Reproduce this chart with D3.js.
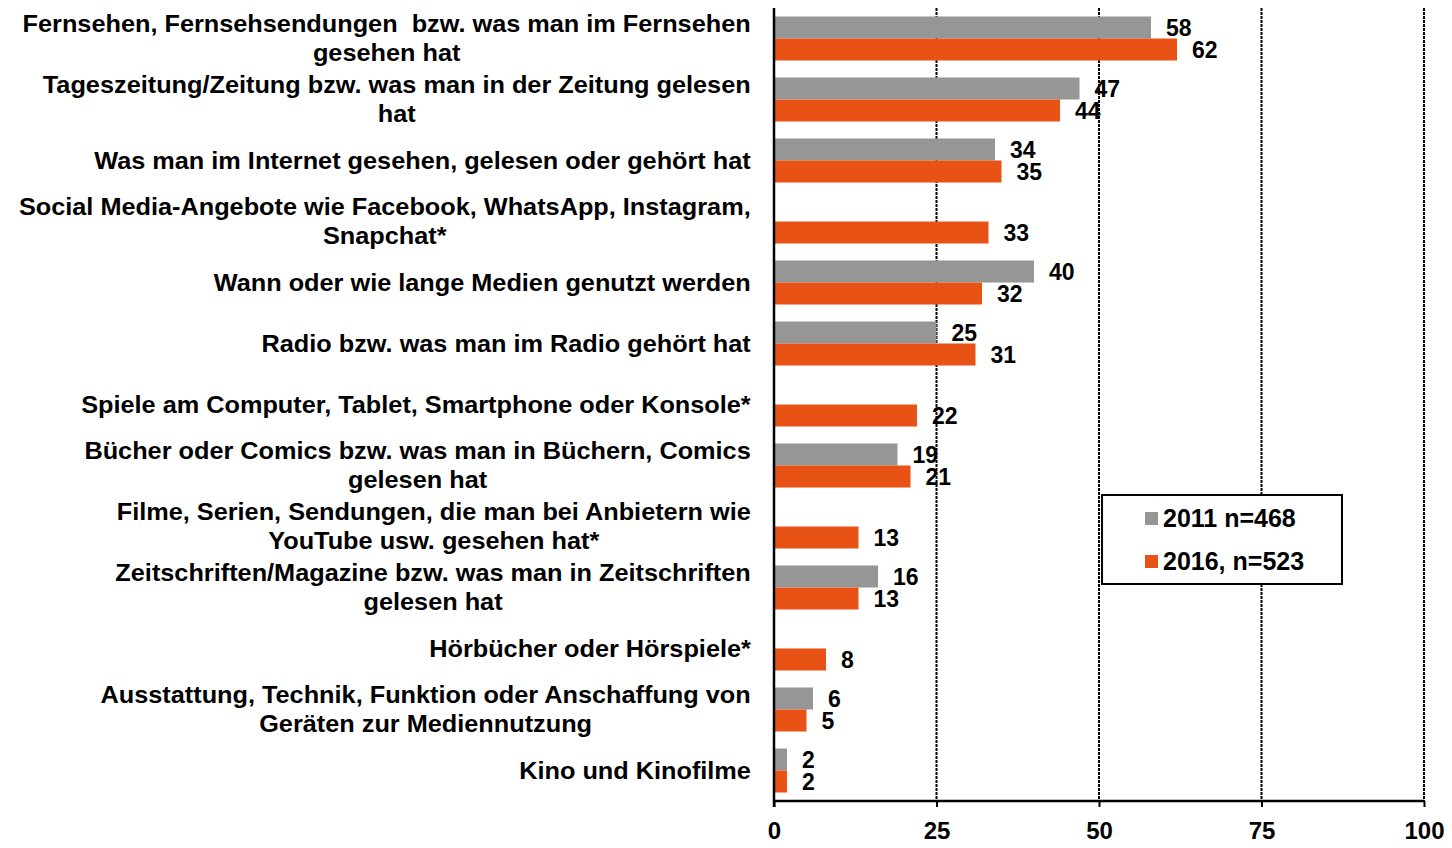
<!DOCTYPE html>
<html><head><meta charset="utf-8">
<script src="https://cdn.jsdelivr.net/npm/d3@7"></script>
<style>body{margin:0;background:#fff}svg{display:block}text{font-family:"Liberation Sans",Arial,sans-serif;font-weight:bold}</style>
</head><body>
<svg id="c" width="1452" height="848"></svg>
<script>
const categories = [
  "Fernsehen, Fernsehsendungen  bzw. was man im Fernsehen\ngesehen hat",
  "Tageszeitung/Zeitung bzw. was man in der Zeitung gelesen\nhat",
  "Was man im Internet gesehen, gelesen oder gehört hat",
  "Social Media-Angebote wie Facebook, WhatsApp, Instagram,\nSnapchat*",
  "Wann oder wie lange Medien genutzt werden",
  "Radio bzw. was man im Radio gehört hat",
  "Spiele am Computer, Tablet, Smartphone oder Konsole*",
  "Bücher oder Comics bzw. was man in Büchern, Comics\ngelesen hat",
  "Filme, Serien, Sendungen, die man bei Anbietern wie\nYouTube usw. gesehen hat*",
  "Zeitschriften/Magazine bzw. was man in Zeitschriften\ngelesen hat",
  "Hörbücher oder Hörspiele*",
  "Ausstattung, Technik, Funktion oder Anschaffung von\nGeräten zur Mediennutzung",
  "Kino und Kinofilme"
];
const values2011 = [58, 47, 34, null, 40, 25, null, 19, null, 16, null, 6, 2];
const values2016 = [62, 44, 35, 33, 32, 31, 22, 21, 13, 13, 8, 5, 2];
const seriesNames = ["2011 n=468", "2016, n=523"];
const tickValues = [0, 25, 50, 75, 100];
const colors = ["#969696", "#E85315"];

(function () {
const svg = d3.select("#c");
const pL = 774, pR = 1424, pT = 8, pB = 801;
const x = d3.scaleLinear().domain([0, 100]).range([pL, pR]);
const y = d3.scaleBand().domain(d3.range(categories.length)).range([pT, pB]).paddingInner(0).paddingOuter(0);
const bandInner = 44;
const sub = d3.scaleBand().domain([0, 1]).range([0, bandInner]);

// gridlines
svg.append("g").selectAll("line").data(tickValues.filter(t => t > 0)).join("line")
  .attr("x1", d => x(d)).attr("x2", d => x(d)).attr("y1", pT).attr("y2", pB)
  .attr("stroke", "#000").attr("stroke-width", 2).attr("stroke-dasharray", "3,1");

const series = [values2011, values2016];
const g = svg.append("g");
series.forEach((vals, si) => {
  const data = vals.map((v, i) => ({v, i})).filter(d => d.v != null);
  g.selectAll(".b" + si).data(data).join("rect")
    .attr("x", x(0)).attr("width", d => x(d.v) - x(0))
    .attr("y", d => y(d.i) + (y.bandwidth() - bandInner) / 2 + sub(si))
    .attr("height", sub.bandwidth())
    .attr("fill", colors[si]);
  g.selectAll(".l" + si).data(data).join("text")
    .attr("x", d => x(d.v) + 15)
    .attr("y", d => y(d.i) + (y.bandwidth() - bandInner) / 2 + sub(si) + sub.bandwidth() / 2)
    .attr("dy", "0.36em").attr("font-size", 23).attr("fill", "#000")
    .text(d => d.v);
});

// y axis line
svg.append("line").attr("x1", x(0)).attr("x2", x(0)).attr("y1", pT).attr("y2", pB + 6)
  .attr("stroke", "#000").attr("stroke-width", 2.5);

// x axis
const xAxis = d3.axisBottom(x).tickValues(tickValues).tickSize(6).tickPadding(15);
const ax = svg.append("g").attr("transform", `translate(0,${pB})`).call(xAxis);
ax.select(".domain").attr("stroke", "#000").attr("stroke-width", 2.5).attr("d", `M${pL},0H${pR}`);
ax.selectAll(".tick line").attr("stroke", "#000").attr("stroke-width", 2);
ax.selectAll(".tick text").attr("font-size", 24).attr("fill", "#000")
  .attr("font-family", '"Liberation Sans",Arial,sans-serif').attr("font-weight", "bold");

// category labels
const labelRight = 751, sx = 1.1;
const lg = svg.append("g");
categories.forEach((c, i) => {
  const lines = c.split("\n");
  const cy = y(i) + y.bandwidth() / 2;
  const grp = lg.append("g");
  const t = grp.append("text").attr("font-size", 23).attr("fill", "#000")
    .attr("text-anchor", "middle").style("white-space", "pre");
  const spans = lines.map((ln, k) => t.append("tspan").text(ln).attr("x", 0)
    .attr("y", cy + (k - (lines.length - 1) / 2) * 29).attr("dy", "0.36em"));
  const maxW = d3.max(spans, s => s.node().getComputedTextLength());
  grp.attr("transform", `translate(${labelRight - maxW * sx / 2},0) scale(${sx},1)`);
});

// legend
const leg = svg.append("g");
leg.append("rect").attr("x", 1102).attr("y", 495).attr("width", 240).attr("height", 89)
  .attr("fill", "#fff").attr("stroke", "#000").attr("stroke-width", 2);
seriesNames.forEach((n, i) => {
  const yy = 518 + i * 43;
  leg.append("rect").attr("x", 1145).attr("y", yy - 6).attr("width", 13).attr("height", 13).attr("fill", colors[i]);
  leg.append("text").attr("x", 1163).attr("y", yy).attr("dy", "0.36em").attr("font-size", 25).attr("fill", "#000").text(n);
});
})();
</script>
</body></html>
